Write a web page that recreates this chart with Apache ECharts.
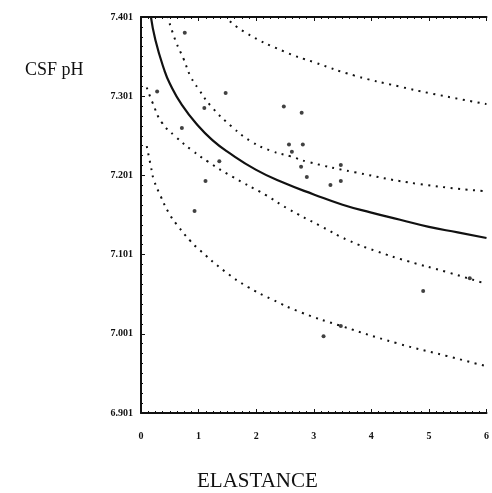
<!DOCTYPE html>
<html>
<head>
<meta charset="utf-8">
<script src="https://cdn.jsdelivr.net/npm/echarts@6/dist/echarts.min.js"></script>
<style>
  html, body { margin: 0; padding: 0; background: #fff; }
  #chart { width: 492px; height: 493px; }
</style>
</head>
<body>
<div id="chart"></div>
<script>
// tick labels as printed on the original plot
const xTicks = ['0', '1', '2', '3', '4', '5', '6'];
const yTicks = ['6.901', '7.001', '7.101', '7.201', '7.301', '7.401'];

// measured points (elastance, CSF pH)
const points = [
  [0.28, 7.306], [0.71, 7.260], [0.76, 7.380], [0.93, 7.155], [1.10, 7.285],
  [1.12, 7.193], [1.36, 7.218], [1.47, 7.304], [2.48, 7.287], [2.57, 7.239],
  [2.62, 7.230], [2.79, 7.279], [2.81, 7.239], [2.78, 7.211], [2.88, 7.198],
  [3.29, 7.188], [3.47, 7.213], [3.47, 7.193], [3.17, 6.997], [3.47, 7.010],
  [4.90, 7.054], [5.71, 7.070]
];

// fitted curve
const fitLine = [
  [0.17, 7.401], [0.25, 7.371], [0.4, 7.334], [0.5, 7.316], [0.71, 7.289],
  [1.0, 7.262], [1.25, 7.244], [1.5, 7.230], [2.0, 7.207], [2.5, 7.190],
  [3.0, 7.176], [3.5, 7.163], [4.0, 7.153], [4.5, 7.144], [5.0, 7.135],
  [5.5, 7.128], [6.0, 7.121]
];

// inner dotted band
const upperInner = [
  [0.46, 7.401], [0.6, 7.370], [0.74, 7.347], [0.86, 7.325], [1.0, 7.309],
  [1.22, 7.287], [1.57, 7.262], [1.91, 7.243], [2.26, 7.231], [2.6, 7.224],
  [2.9, 7.217], [3.71, 7.204], [4.84, 7.189], [6.0, 7.180]
];
const lowerInner = [
  [0.1, 7.311], [0.2, 7.292], [0.36, 7.267], [0.6, 7.249], [0.88, 7.232],
  [1.17, 7.217], [1.57, 7.199], [2.17, 7.175], [2.55, 7.158], [3.12, 7.136],
  [3.6, 7.118], [4.1, 7.104], [4.62, 7.092], [5.31, 7.078], [6.0, 7.063]
];

// outer dotted band
const upperOuter = [
  [1.45, 7.401], [1.8, 7.381], [2.5, 7.356], [3.0, 7.343], [3.71, 7.326],
  [4.5, 7.312], [5.0, 7.304], [6.0, 7.290]
];
const lowerOuter = [
  [0.1, 7.237], [0.17, 7.212], [0.22, 7.195], [0.34, 7.174], [0.48, 7.153],
  [0.62, 7.138], [0.86, 7.117], [1.0, 7.107], [1.47, 7.078], [1.86, 7.059],
  [2.26, 7.044], [2.78, 7.027], [3.47, 7.010], [4.45, 6.988], [5.31, 6.972],
  [6.0, 6.959]
];

const ink = '#111';
const tickFont = { fontFamily: 'Liberation Serif', fontWeight: 'bold', fontSize: 10, color: ink };

function dotted(name, data) {
  return {
    name: name,
    type: 'line',
    data: data,
    smooth: true,
    symbol: 'none',
    lineStyle: { color: ink, width: 2, type: [2, 5.5] }
  };
}

const chart = echarts.init(document.getElementById('chart'));
chart.setOption({
  animation: false,
  backgroundColor: '#fff',
  grid: { left: 141, right: 1, top: 17, bottom: 80 },
  xAxis: [
    {
      type: 'value', min: 0, max: 6, interval: 1,
      axisLine: { show: true, lineStyle: { color: ink, width: 2 } },
      axisTick: { show: true, inside: true, length: 4, lineStyle: { color: ink } },
      minorTick: { show: true, splitNumber: 8, length: 2, lineStyle: { color: ink } },
      splitLine: { show: false },
      axisLabel: Object.assign({ margin: 18, formatter: (v, i) => xTicks[i] }, tickFont)
    },
    {
      type: 'value', position: 'top', min: 0, max: 6, interval: 1,
      axisLine: { show: true, lineStyle: { color: ink, width: 2 } },
      axisTick: { show: true, inside: true, length: 4, lineStyle: { color: ink } },
      minorTick: { show: true, splitNumber: 8, length: 2, lineStyle: { color: ink } },
      splitLine: { show: false },
      axisLabel: { show: false }
    }
  ],
  yAxis: {
    type: 'value', min: 6.9, max: 7.4, interval: 0.1,
    axisLine: { show: true, lineStyle: { color: ink, width: 2 } },
    axisTick: { show: true, inside: true, length: 4, lineStyle: { color: ink } },
    minorTick: { show: true, splitNumber: 8, length: 2, lineStyle: { color: ink } },
    splitLine: { show: false },
    axisLabel: Object.assign({ margin: 8, formatter: (v, i) => yTicks[i] }, tickFont)
  },
  graphic: [
    { type: 'text', left: 25, top: 61,
      style: { text: 'CSF pH', font: '18px "Liberation Serif"', fill: ink } },
    { type: 'text', left: 197, top: 471,
      style: { text: 'ELASTANCE', font: '21px "Liberation Serif"', fill: ink } }
  ],
  series: [
    {
      name: 'fit', type: 'line', data: fitLine, smooth: true, symbol: 'none',
      lineStyle: { color: ink, width: 2.2 }
    },
    dotted('upper inner', upperInner),
    dotted('lower inner', lowerInner),
    dotted('upper outer', upperOuter),
    dotted('lower outer', lowerOuter),
    {
      name: 'points', type: 'scatter', data: points, symbol: 'circle', symbolSize: 4,
      itemStyle: { color: ink }
    }
  ]
});
</script>
</body>
</html>
